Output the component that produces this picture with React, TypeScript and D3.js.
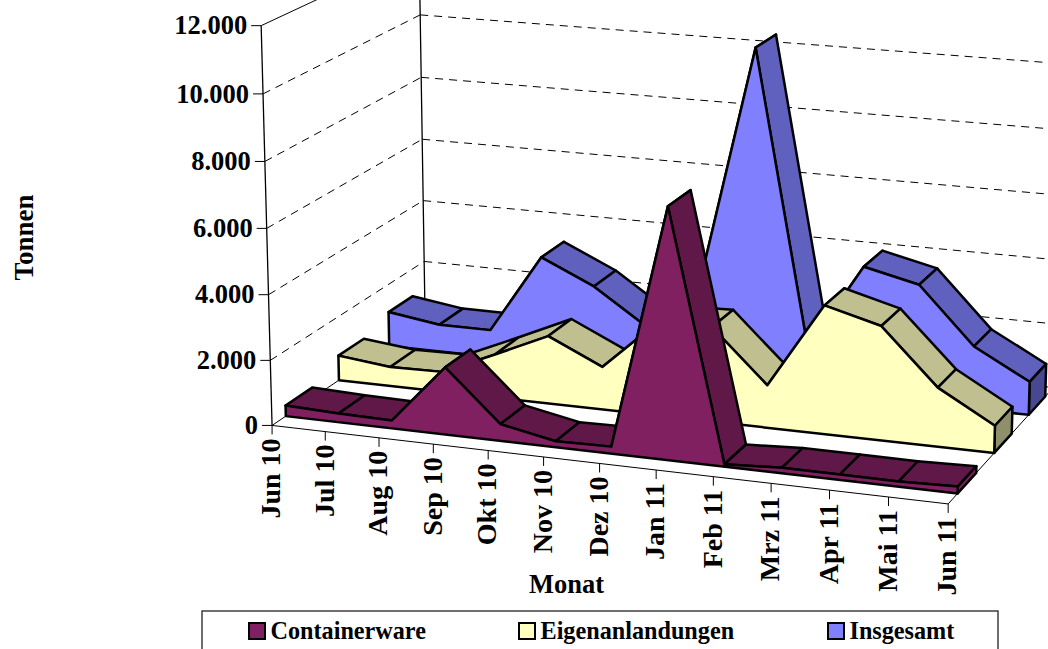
import React from "react";
import * as d3 from "d3";

const categories = ["Jun 10","Jul 10","Aug 10","Sep 10","Okt 10","Nov 10","Dez 10","Jan 11","Feb 11","Mrz 11","Apr 11","Mai 11","Jun 11"];
const containerware = [330,270,245,2050,510,180,210,7500,70,160,160,150,200];
const eigenanlandungen = [780,600,625,1350,2100,1320,2850,2900,1300,3900,3450,1780,820];
const insgesamt = [1110,870,870,3370,2610,1500,3060,10450,1370,4050,3660,1930,1020];
const seriesNames = ["Containerware","Eigenanlandungen","Insgesamt"];
const seriesValues = [containerware, eigenanlandungen, insgesamt];
const faceColors = ["#802060","#FFFFC0","#8080FF"];
const topColors = ["#601848","#BFBF90","#6060BF"];
const capColors = ["#802060","#8F8F6C","#484890"];
const valueTicks = [0,2000,4000,6000,8000,10000,12000];
const tickLabels = ["0","2.000","4.000","6.000","8.000","10.000","12.000"];
const legendX = [249,519,828];

const FONT = "'Liberation Serif','Times New Roman',serif";

function solve(A: number[][], b: number[]) {
  const n = b.length;
  const M = A.map((r, i) => [...r, b[i]]);
  for (let c = 0; c < n; c++) {
    let p = c;
    for (let r = c + 1; r < n; r++) if (Math.abs(M[r][c]) > Math.abs(M[p][c])) p = r;
    [M[c], M[p]] = [M[p], M[c]];
    for (let r = 0; r < n; r++) {
      if (r === c) continue;
      const f = M[r][c] / M[c][c];
      for (let k = c; k <= n; k++) M[r][k] -= f * M[c][k];
    }
  }
  return M.map((r, i) => r[n] / r[i]);
}
// Camera calibration: chart space [u, w, h] -> page [px, py]; fitted by least squares.
const t = (v: number) => v / 12000;
const calib: [number, number, number, number | null, number | null][] = [
  [0,0,t(0),272.6,425],[0,0,t(2000),271,360],[0,0,t(4000),269,294.6],[0,0,t(6000),267,228],[0,0,t(8000),265,161],[0,0,t(10000),263,93],[0,0,t(12000),261,25],
  [0,1,t(0),424.5,323],[0,1,t(2000),423.5,262.5],[0,1,t(4000),423,201],[0,1,t(6000),422,139.5],[0,1,t(8000),421,77.5],[0,1,t(10000),420,15.5],
  [1,1,t(0),1055,385],[1,1,t(2000),null,324],[1,1,t(4000),null,259.5],[1,1,t(6000),null,196],[1,1,t(8000),null,130],[1,1,t(10000),null,64],
  [1/12,0,0,324.7,431.7],[2/12,0,0,378.7,438.3],[3/12,0,0,433,445],[4/12,0,0,488,451],[5/12,0,0,543.7,457.7],[6/12,0,0,599.7,464],
  [7/12,0,0,655.7,470.7],[8/12,0,0,713,477.3],[9/12,0,0,770.7,484],[10/12,0,0,829,491],[11/12,0,0,888,497.3],[1,0,0,947.5,503.5],
  [0,1/12,0,285.7,416],[1,1/12,0,958,492],[0,5/12,0,339.3,380],[1,5/12,0,993.7,452.7],[0,9/12,0,390,343],[1,9/12,0,1028.7,415],
  [7/12,1/12,t(7450),668.7,null],[7/12,9/12,t(10300),755.3,null],[7/12,1/12,0,668.7,null],
];
const rows: number[][] = [];
const rhs: number[] = [];
for (const [u,w,h,px,py] of calib) {
  if (px !== null) { rows.push([u,w,h,1,0,0,0,0,-px*u,-px*w,-px*h]); rhs.push(px); }
  if (py !== null) { rows.push([0,0,0,0,u,w,h,1,-py*u,-py*w,-py*h]); rhs.push(py); }
}
const N = 11;
const ATA = d3.range(N).map((i) => d3.range(N).map((j) => d3.sum(rows, (r) => r[i] * r[j])));
const ATb = d3.range(N).map((i) => d3.sum(rows, (r, k) => r[i] * rhs[k]));
const P = solve(ATA, ATb);
const project = (u: number, w: number, h: number): [number, number] => {
  const d = P[8]*u + P[9]*w + P[10]*h + 1;
  return [(P[0]*u+P[1]*w+P[2]*h+P[3])/d, (P[4]*u+P[5]*w+P[6]*h+P[7])/d];
};

const xScale = d3.scaleLinear().domain([0, categories.length - 1]).range([0, 1]);
const yScale = d3.scaleLinear().domain([0, 12000]).range([0, 1]);
const zScale = d3.scaleBand<string>().domain(seriesNames).range([0, 1]).paddingInner(0.5).paddingOuter(0.25);
const poly = d3.line<[number, number]>().curve(d3.curveLinearClosed);
const seg = d3.line<[number, number]>();

export default function App() {
  const ink = "#000";
  const bw = zScale.bandwidth();
  return (
    <svg width={1048} height={649} style={{ position: "absolute", left: 0, top: 0, background: "#fff" }} fontFamily={FONT} fontWeight="bold">
      {valueTicks.map((v, vi) => {
        const h = yScale(v);
        const a = project(0,0,h), b = project(0,1,h), c = project(1,1,h);
        const dash = v === 0 || v === 12000 ? undefined : "8 6";
        return (
          <g key={v}>
            <path d={seg([a,b])!} stroke={ink} strokeWidth={1} fill="none" strokeDasharray={dash} />
            <path d={seg([b,c])!} stroke={ink} strokeWidth={1} fill="none" strokeDasharray={dash} />
            <line x1={a[0]-10} x2={a[0]} y1={a[1]} y2={a[1]} stroke={ink} strokeWidth={1} />
            <text x={a[0]-14} y={a[1]} dy="0.33em" textAnchor="end" fontSize={26.5}>{tickLabels[vi]}</text>
          </g>
        );
      })}
      <path d={seg([project(0,0,0),project(0,0,1)])!} stroke={ink} strokeWidth={1.3} fill="none" />
      <path d={seg([project(0,1,0),project(0,1,1)])!} stroke={ink} strokeWidth={1.3} fill="none" />
      <path d={seg([project(0,0,0),project(1,0,0)])!} stroke={ink} fill="none" />
      <path d={seg([project(1,0,0),project(1,1,0)])!} stroke={ink} fill="none" />
      {categories.map((c, i) => {
        const p = project(xScale(i),0,0);
        return (
          <g key={c}>
            <line x1={p[0]} x2={p[0]} y1={p[1]} y2={p[1]+9} stroke={ink} />
            <text transform={`translate(${p[0]-1},${p[1]+13}) rotate(-90)`} textAnchor="end" dy="0.33em" fontSize={28}>{c}</text>
          </g>
        );
      })}
      {[2,1,0].map((si) => {
        const vals = seriesValues[si];
        const z0 = zScale(seriesNames[si])!, z1 = z0 + bw;
        const front = vals.map((v, i) => project(xScale(i), z0, yScale(v)));
        const back = vals.map((v, i) => project(xScale(i), z1, yScale(v)));
        const n = vals.length - 1;
        const faceP: [number,number][] = [project(0,z0,0), ...front, project(1,z0,0)];
        return (
          <g key={si} stroke={ink} strokeWidth={2.5} strokeLinejoin="round">
            {vals.slice(0,-1).map((_, i) => (
              <path key={i} d={poly([front[i],front[i+1],back[i+1],back[i]])!} fill={topColors[si]} />
            ))}
            <path d={poly([front[n],back[n],project(1,z1,0),project(1,z0,0)])!} fill={capColors[si]} />
            <path d={poly(faceP)!} fill={faceColors[si]} />
          </g>
        );
      })}
      <text x={566.5} y={593} textAnchor="middle" fontSize={26.5}>Monat</text>
      <text transform="translate(33,237.5) rotate(-90)" textAnchor="middle" fontSize={27}>Tonnen</text>
      <rect x={202} y={611} width={796} height={60} fill="#fff" stroke="#222" strokeWidth={1.3} />
      {seriesNames.map((s, i) => (
        <g key={s}>
          <rect x={legendX[i]} y={623} width={16} height={16} fill={faceColors[i]} stroke={ink} strokeWidth={2} />
          <text x={legendX[i]+21.5} y={638.5} fontSize={24.2}>{s}</text>
        </g>
      ))}
    </svg>
  );
}
